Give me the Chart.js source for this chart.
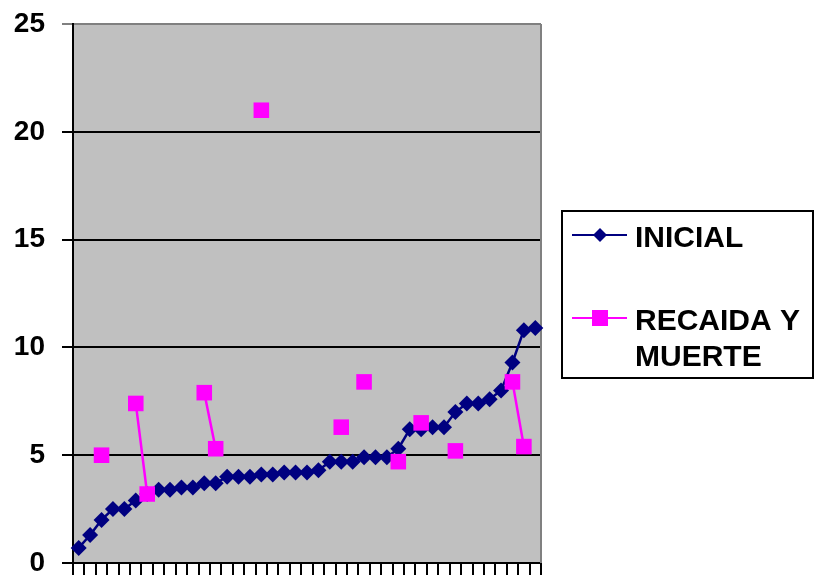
<!DOCTYPE html>
<html>
<head>
<meta charset="utf-8">
<script src="https://cdn.jsdelivr.net/npm/chart.js@4/dist/chart.umd.min.js"></script>
<style>
	html, body { margin: 0; padding: 0; background: #fff; }
	#wrap { width: 814px; height: 575px; position: relative; }
</style>
</head>
<body>
<div id="wrap"><canvas id="chart"></canvas></div>
<script>
const categories = Array.from({ length: 41 }, (_, i) => String(i + 1));
const inicial = [0.7, 1.3, 2.0, 2.5, 2.5, 2.9, 3.2, 3.4, 3.4, 3.5, 3.5, 3.7, 3.7, 4.0, 4.0, 4.0, 4.1, 4.1, 4.2, 4.2, 4.2, 4.3, 4.7, 4.7, 4.7, 4.9, 4.9, 4.9, 5.3, 6.2, 6.2, 6.3, 6.3, 7.0, 7.4, 7.4, 7.6, 8.0, 9.3, 10.8, 10.9];
const recaida = [null, null, 5.0, null, null, 7.4, 3.2, null, null, null, null, 7.9, 5.3, null, null, null, 21.0, null, null, null, null, null, null, 6.3, null, 8.4, null, null, 4.7, null, 6.5, null, null, 5.2, null, null, null, null, 8.4, 5.4, null];
const yTicks = [0, 5, 10, 15, 20, 25];
const seriesNames = ['INICIAL', 'RECAIDA Y MUERTE'];

const NAVY = '#000080';
const PINK = '#FF00FF';

// gray plot background + gray right border
const plotArea = {
	id: 'plotArea',
	beforeDraw(chart) {
		const { ctx, chartArea: a } = chart;
		ctx.save();
		ctx.fillStyle = '#C0C0C0';
		ctx.fillRect(a.left, a.top, a.right - a.left, a.bottom - a.top);
		ctx.restore();
	},
	beforeDatasetsDraw(chart) {
		const { ctx, chartArea: a } = chart;
		ctx.save();
		ctx.strokeStyle = '#808080';
		ctx.lineWidth = 2;
		ctx.beginPath();
		ctx.moveTo(a.right, a.top);
		ctx.lineTo(a.right, a.bottom);
		ctx.stroke();
		ctx.restore();
	},
};

// legend box like the original (two-line second label)
const boxLegend = {
	id: 'boxLegend',
	afterDraw(chart) {
		const ctx = chart.ctx;
		ctx.save();
		ctx.strokeStyle = '#000';
		ctx.lineWidth = 2;
		ctx.strokeRect(562, 211, 251, 167);

		ctx.lineWidth = 2;
		ctx.strokeStyle = NAVY;
		ctx.beginPath();
		ctx.moveTo(572, 235);
		ctx.lineTo(627, 235);
		ctx.stroke();
		ctx.fillStyle = NAVY;
		ctx.beginPath();
		ctx.moveTo(600, 228);
		ctx.lineTo(607, 235);
		ctx.lineTo(600, 242);
		ctx.lineTo(593, 235);
		ctx.closePath();
		ctx.fill();

		ctx.strokeStyle = PINK;
		ctx.beginPath();
		ctx.moveTo(572, 318);
		ctx.lineTo(627, 318);
		ctx.stroke();
		ctx.fillStyle = PINK;
		ctx.fillRect(592, 310, 16, 16);

		ctx.fillStyle = '#000';
		ctx.font = 'bold 30px "Liberation Sans", Arial, sans-serif';
		ctx.textAlign = 'left';
		ctx.textBaseline = 'alphabetic';
		ctx.fillText(seriesNames[0], 635, 247);
		ctx.fillText('RECAIDA Y', 635, 330);
		ctx.fillText('MUERTE', 635, 366);
		ctx.restore();
	},
};

new Chart(document.getElementById('chart'), {
	type: 'line',
	data: {
		labels: categories,
		datasets: [
			{
				label: seriesNames[0],
				data: inicial,
				order: 1,
				borderColor: NAVY,
				backgroundColor: NAVY,
				borderWidth: 2.5,
				pointStyle: 'rectRot',
				pointRadius: 8,
				pointHoverRadius: 8,
				pointBorderWidth: 0,
				tension: 0,
			},
			{
				label: seriesNames[1],
				data: recaida,
				order: 0,
				borderColor: PINK,
				backgroundColor: PINK,
				borderWidth: 2.5,
				pointStyle: 'rect',
				pointRadius: 11,
				pointHoverRadius: 11,
				pointBorderWidth: 0,
				spanGaps: false,
				tension: 0,
			},
		],
	},
	options: {
		responsive: true,
		maintainAspectRatio: false,
		animation: false,
		layout: { padding: { top: 24, right: 273, left: 0, bottom: 0 } },
		plugins: {
			legend: { display: false },
			tooltip: { enabled: false },
		},
		scales: {
			x: {
				offset: true,
				grid: {
					offset: true,
					drawOnChartArea: false,
					drawTicks: true,
					tickLength: 12,
					color: '#000',
					lineWidth: 2,
				},
				border: { color: '#000', width: 2 },
				ticks: { display: false },
				afterFit: (s) => {
					s.height = 12;
					s.paddingLeft = 0;
					s.paddingRight = 0;
				},
			},
			y: {
				min: 0,
				max: 25,
				afterBuildTicks: (s) => { s.ticks = yTicks.map((v) => ({ value: v })); },
				grid: {
					color: (c) => (c.tick && c.tick.value === 25 ? '#808080' : '#000'),
					lineWidth: 2,
					tickLength: 11,
					drawTicks: true,
				},
				border: { color: '#000', width: 2 },
				ticks: {
					padding: 17,
					color: '#000',
					font: { family: '"Liberation Sans", Arial, sans-serif', size: 28, weight: 'bold', lineHeight: 1 },
				},
				afterFit: (s) => {
					s.width = 73;
					s.paddingTop = 0;
					s.paddingBottom = 0;
				},
			},
		},
	},
	plugins: [plotArea, boxLegend],
});
</script>
</body>
</html>
